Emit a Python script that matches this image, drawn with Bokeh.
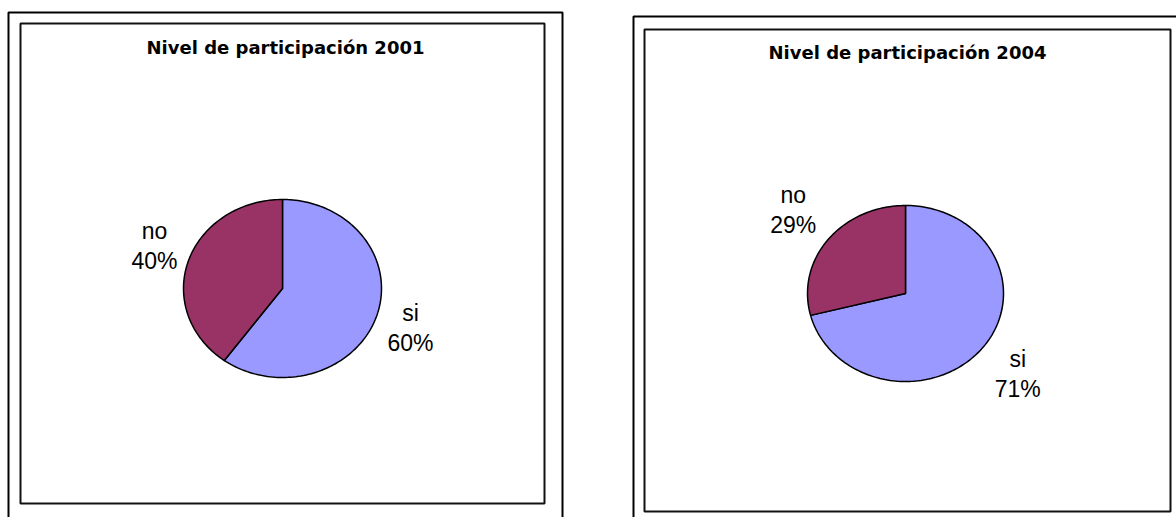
import numpy as np
from bokeh.plotting import figure
from bokeh.models import Range1d, ColumnDataSource
from bokeh.core.properties import value
from bokeh.embed import file_html
from bokeh.resources import INLINE

# ---- data ----
categories = ["si", "no"]
values_2001 = [60, 40]
values_2004 = [71, 29]
years = ["2001", "2004"]
title_prefix = "Nivel de participación"
slice_colors = ["#9999FF", "#993366"]

# ---- layout (picture pixel coordinates) ----
W, H = 1176, 517
p = figure(width=W, height=H, x_range=Range1d(0, W), y_range=Range1d(H, 0),
           output_backend="svg", toolbar_location=None, min_border=0,
           x_axis_location=None, y_axis_location=None)
p.grid.visible = False
p.outline_line_color = None
p.background_fill_color = "white"
p.border_fill_color = "white"

# outer frames
p.multi_line(xs=[[8, 8, 562, 562], [633, 633, 1190]],
             ys=[[530, 12, 12, 530], [530, 16, 16]],
             line_color="black", line_width=2)
# inner boxes
p.quad(left=[20, 644], right=[544, 1170], top=[23, 29], bottom=[503, 511],
       fill_color=None, line_color="#111111", line_width=2)

charts = [
    dict(values=values_2001, year=years[0], cx=282, cy=288, rx=99, ry=89, k=1.36, tx=285, ty=47),
    dict(values=values_2004, year=years[1], cx=905, cy=293, rx=98, ry=88, k=1.45, tx=907, ty=52),
]

for ch in charts:
    vals = np.array(ch["values"], dtype=float)
    fr = vals / vals.sum()
    ends = np.cumsum(fr) * 2 * np.pi
    starts = ends - fr * 2 * np.pi
    xs, ys = [], []
    lx, ly = [], []
    for s, e in zip(starts, ends):
        n = max(3, int((e - s) / (2 * np.pi) * 240))
        t = np.linspace(s, e, n)
        xs.append([ch["cx"]] + list(ch["cx"] + ch["rx"] * np.sin(t)))
        ys.append([ch["cy"]] + list(ch["cy"] - ch["ry"] * np.cos(t)))
        m = (s + e) / 2
        lx.append(ch["cx"] + ch["k"] * ch["rx"] * np.sin(m))
        nudge = -5 if np.cos(m) > 0 else 2
        ly.append(ch["cy"] - ch["k"] * ch["ry"] * np.cos(m) + nudge)
    src = ColumnDataSource(dict(xs=xs, ys=ys, color=slice_colors))
    p.patches(xs="xs", ys="ys", fill_color="color", line_color="black", line_width=1.5, source=src)

    pct = [f"{int(v)}%" for v in vals]
    p.text(x=lx, y=[y - 15 for y in ly], text=categories, text_font=value("Liberation Sans"),
           text_font_size="23px", text_align="center", text_baseline="middle", text_color="black")
    p.text(x=lx, y=[y + 15 for y in ly], text=pct, text_font=value("Liberation Sans"),
           text_font_size="23px", text_align="center", text_baseline="middle", text_color="black")

    p.text(x=[ch["tx"]], y=[ch["ty"]], text=[f"{title_prefix} {ch['year']}"],
           text_font=value("DejaVu Sans"), text_font_style="bold", text_font_size="18px",
           text_align="center", text_baseline="middle", text_color="black")

open("out.html", "w").write(file_html(p, INLINE))
